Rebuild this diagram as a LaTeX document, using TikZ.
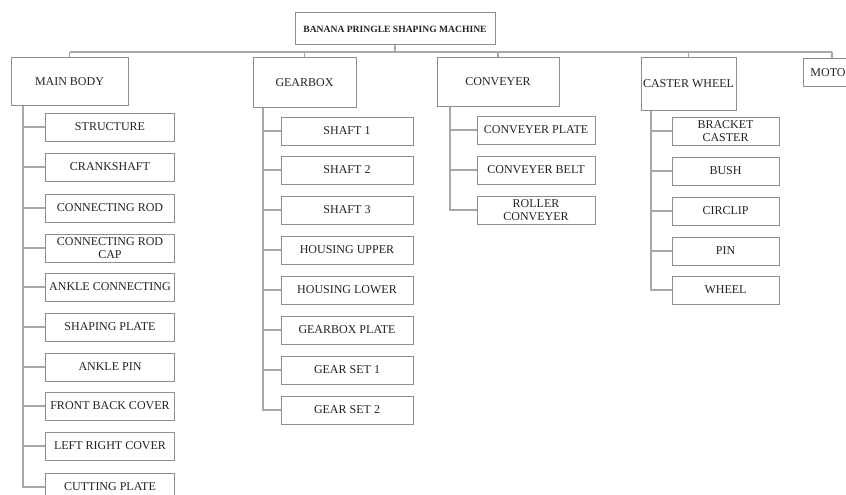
\documentclass[tikz,border=0pt]{standalone}
\usepackage{fontspec}
\setmainfont{Liberation Serif}
\begin{document}
\begin{tikzpicture}[x=1pt,y=-1pt,
  box/.style={draw=boxgray,line width=1pt,inner sep=1pt,align=center,
    font=\fontsize{12}{12.5}\selectfont,text=textdark},
  wire/.style={draw=linegray,line width=1.3pt}]
\definecolor{boxgray}{HTML}{8E8E8E}
\definecolor{linegray}{HTML}{A8A8A8}
\definecolor{textdark}{HTML}{222222}
\useasboundingbox (0,0) rectangle (846,495);
\clip (0,0) rectangle (846,495);
% title
\node[box,minimum width=200,minimum height=32,font=\fontsize{9.6}{10}\selectfont\bfseries] (root) at (395,29) {BANANA PRINGLE SHAPING MACHINE};
% level 1
\node[box,minimum width=117,minimum height=47] (mb) at (69.5,81.5) {MAIN BODY};
\node[box,minimum width=103,minimum height=49] (gb) at (304.5,82.5) {GEARBOX};
\node[box,minimum width=122,minimum height=48] (cv) at (498,82) {CONVEYER};
\node[box,minimum width=95,minimum height=52] (cw) at (688.5,84) {CASTER WHEEL};
\node[box,minimum width=58,minimum height=27] (mo) at (832,72.5) {MOTOR};
% bus
\coordinate (bus) at (0,52);
\draw[wire] (root.south) -- (root.south |- bus);
\draw[wire] (mb.north |- bus) -- (mo.north |- bus);
\foreach \n in {mb,gb,cv,cw,mo} \draw[wire] (\n.north) -- (\n.north |- bus);
% main body children
\foreach \i/\t/\y in {1/STRUCTURE/127,2/CRANKSHAFT/167,3/CONNECTING ROD/208,4/{CONNECTING ROD\\CAP}/248,5/ANKLE CONNECTING/287,6/SHAPING PLATE/327,7/ANKLE PIN/367,8/FRONT BACK COVER/406,9/LEFT RIGHT COVER/446,10/CUTTING PLATE/487}
  \node[box,minimum width=129,minimum height=28] (m\i) at (110,\y) {\t};
\coordinate (mbv) at (23,105);
\draw[wire] (mb.south -| mbv) |- (m10.west);
\foreach \i in {1,...,9} \draw[wire] (m\i.west) -- (m\i.west -| mbv);
% gearbox children
\foreach \i/\t/\y in {1/SHAFT 1/131,2/SHAFT 2/170,3/SHAFT 3/210,4/HOUSING UPPER/250,5/HOUSING LOWER/290,6/GEARBOX PLATE/330,7/GEAR SET 1/370,8/GEAR SET 2/410}
  \node[box,minimum width=132,minimum height=28] (g\i) at (347,\y) {\t};
\coordinate (gbv) at (263,107);
\draw[wire] (gb.south -| gbv) |- (g8.west);
\foreach \i in {1,...,7} \draw[wire] (g\i.west) -- (g\i.west -| gbv);
% conveyer children
\foreach \i/\t/\y in {1/CONVEYER PLATE/130,2/CONVEYER BELT/170,3/{ROLLER\\CONVEYER}/210}
  \node[box,minimum width=118,minimum height=28] (c\i) at (536,\y) {\t};
\coordinate (cvv) at (450,106);
\draw[wire] (cv.south -| cvv) |- (c3.west);
\foreach \i in {1,2} \draw[wire] (c\i.west) -- (c\i.west -| cvv);
% caster wheel children
\foreach \i/\t/\y in {1/{BRACKET\\CASTER}/131,2/BUSH/171,3/CIRCLIP/211,4/PIN/251,5/WHEEL/290}
  \node[box,minimum width=107,minimum height=28] (w\i) at (725.5,\y) {\t};
\coordinate (cwv) at (651,110);
\draw[wire] (cw.south -| cwv) |- (w5.west);
\foreach \i in {1,...,4} \draw[wire] (w\i.west) -- (w\i.west -| cwv);
\end{tikzpicture}
\end{document}
